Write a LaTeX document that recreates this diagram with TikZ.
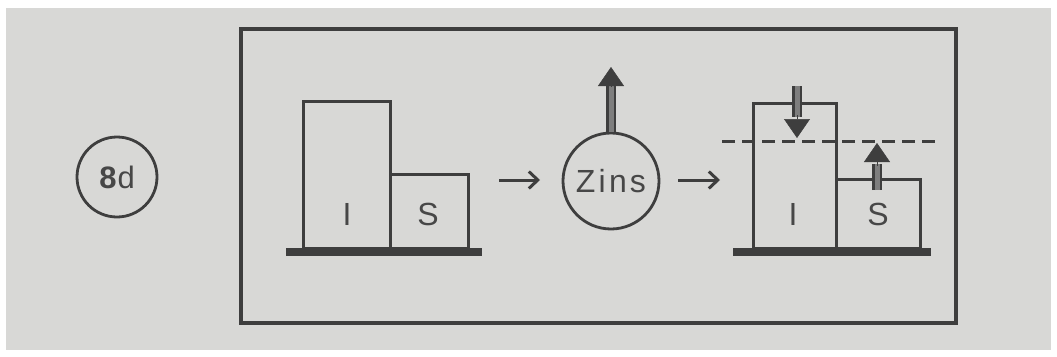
\documentclass[tikz,border=0pt]{standalone}
\usepackage{fontspec}
\setsansfont{Liberation Sans}
\usetikzlibrary{arrows.meta,calc}
\definecolor{paper}{HTML}{D8D8D6}
\definecolor{ink}{HTML}{3E3E3E}
\definecolor{inkfill}{HTML}{7E7E7E}
\definecolor{txt}{HTML}{474747}
\tikzset{
  box/.style={draw=ink, line width=3pt, inner sep=0pt, outer sep=0pt, anchor=south west},
  floor/.style={fill=ink, inner sep=0pt, outer sep=0pt, minimum height=8pt},
  lbl/.style={text=txt, font=\sffamily\fontsize{32}{32}\selectfont, inner sep=0pt},
  ring/.style={circle, draw=ink, line width=2.8pt, inner sep=0pt, text=txt},
  flow/.style={draw=ink, line width=3pt, -{Straight Barb[length=9pt,width=17pt]}},
  shaft/.style={draw=ink, line width=2.8pt, double=inkfill, double distance=5pt},
  head/.style={draw=ink, line width=0.5pt, -{Triangle[length=19pt,width=26pt,fill=ink]}},
  level/.style={draw=ink, line width=3pt, dash pattern=on 13pt off 7pt}
}
\begin{document}
\begin{tikzpicture}[x=1pt,y=-1pt]
  % sheet
  \fill[white] (0,0) rectangle (1057,356);
  \fill[paper] (6,8) rectangle (1051,350);
  \useasboundingbox (0,0) rectangle (1057,356);

  % outer panel
  \node[draw=ink, line width=3.2pt, inner sep=0pt, minimum width=715pt, minimum height=294pt] (panel) at (598.5,176) {};

  % figure tag
  \node[ring, minimum size=80pt, font=\sffamily\fontsize{31}{31}\selectfont] (tag) at (117,177) {\textbf{8}\kern1pt d};

  % before: tall I column beside short S column
  \node[box, minimum width=87pt, minimum height=147pt] (I1) at (303,248) {};
  \node[box, minimum width=78pt, minimum height=74pt] (S1) at (I1.south east) {};
  \node[floor, minimum width=196pt] (base1) at (384,252) {};
  \node[lbl] (tI1) at (347,214) {I};
  \node[lbl] (tS1) at (428,214) {S};

  % transfer step
  \coordinate (a1s) at (499,180);
  \coordinate (a1e) at (540,180);
  \draw[flow] (a1s) -- (a1e);

  \node[ring, minimum size=96pt, font=\sffamily\fontsize{32}{32}\selectfont\addfontfeature{LetterSpace=10}] (zins) at (611,181) {Zins};
  \coordinate (zup) at (611,67);
  \coordinate (zneck) at (611,85);
  \draw[shaft] (zins.north) -- (zneck);
  \draw[head] ($(zneck)+(0,2)$) -- (zup);

  \coordinate (a2s) at (678,180);
  \coordinate (a2e) at (720,180);
  \draw[flow] (a2s) -- (a2e);

  % after: both columns move toward the common level
  \node[box, minimum width=83pt, minimum height=145pt] (I2) at (753,248) {};
  \node[box, minimum width=84pt, minimum height=69pt] (S2) at (I2.south east) {};
  \node[floor, minimum width=198pt] (base2) at (832,252) {};
  \node[lbl] (tI2) at (793,214) {I};
  \node[lbl] (tS2) at (878,214) {S};

  \coordinate (lvlL) at (722,141);
  \coordinate (lvlR) at (937,141);
  \draw[level] (lvlL) -- (lvlR);

  \coordinate (dn0) at (797,86);
  \coordinate (dn1) at (797,117);
  \coordinate (dnTip) at (797,138);
  \draw[shaft] (dn0) -- (dn1);
  \draw[head] ($(dn1)-(0,2)$) -- (dnTip);

  \coordinate (up0) at (877,190);
  \coordinate (up1) at (877,164);
  \coordinate (upTip) at (877,143);
  \draw[shaft] (up0) -- (up1);
  \draw[head] ($(up1)+(0,2)$) -- (upTip);
\end{tikzpicture}
\end{document}
